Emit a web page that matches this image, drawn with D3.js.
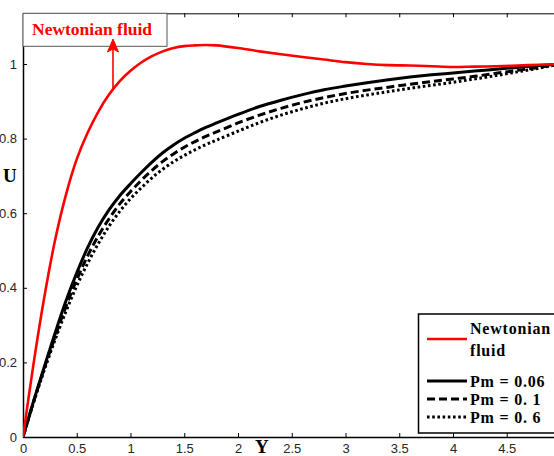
<!DOCTYPE html>
<html>
<head>
<meta charset="utf-8">
<script src="https://cdn.jsdelivr.net/npm/d3@7"></script>
<style>
  body { margin: 0; background: #fff; }
  svg { display: block; }
</style>
</head>
<body>
<script>
// values
const yPos = [0, 0.1, 0.2, 0.3, 0.4, 0.5, 0.6, 0.7, 0.8, 0.9, 1.0, 1.1, 1.2, 1.3, 1.4, 1.5, 1.6, 1.7, 1.8,
  2.0, 2.2, 2.4, 2.6, 2.8, 3.0, 3.2, 3.4, 3.6, 3.8, 4.0, 4.2, 4.4, 4.6, 4.8, 5.0];
const newtonian = [0, 0.20, 0.378, 0.53, 0.65, 0.745, 0.815, 0.872, 0.918, 0.954, 0.982, 1.004, 1.021, 1.034, 1.043, 1.048, 1.05, 1.051, 1.05,
  1.043, 1.034, 1.026, 1.019, 1.012, 1.005, 1.0, 0.997, 0.996, 0.994, 0.992, 0.993, 0.994, 0.996, 0.998, 1.0];
const pm006 = [0, 0.098, 0.19, 0.28, 0.365, 0.44, 0.507, 0.563, 0.609, 0.647, 0.679, 0.709, 0.737, 0.762, 0.783, 0.801, 0.816, 0.83, 0.842,
  0.865, 0.886, 0.903, 0.918, 0.931, 0.941, 0.95, 0.958, 0.965, 0.971, 0.976, 0.981, 0.986, 0.991, 0.996, 1.0];
const pm01 = [0, 0.096, 0.186, 0.27, 0.35, 0.422, 0.485, 0.539, 0.585, 0.625, 0.658, 0.688, 0.715, 0.739, 0.759, 0.777, 0.792, 0.806, 0.818,
  0.842, 0.863, 0.881, 0.897, 0.91, 0.921, 0.93, 0.938, 0.946, 0.953, 0.96, 0.967, 0.975, 0.983, 0.991, 1.0];
const pm06 = [0, 0.094, 0.181, 0.262, 0.337, 0.405, 0.465, 0.518, 0.565, 0.605, 0.639, 0.668, 0.695, 0.718, 0.738, 0.755, 0.77, 0.784, 0.796,
  0.82, 0.843, 0.863, 0.88, 0.895, 0.907, 0.917, 0.926, 0.935, 0.943, 0.951, 0.96, 0.969, 0.979, 0.989, 1.0];

const xTicks = [0, 0.5, 1, 1.5, 2, 2.5, 3, 3.5, 4, 4.5];
const yTicks = [0, 0.2, 0.4, 0.6, 0.8, 1];

const series = [
  { name: "Newtonian", values: newtonian, color: "#ff0000", width: 2.6, dash: null },
  { name: "Pm = 0.06", values: pm006, color: "#000", width: 3, dash: null },
  { name: "Pm = 0. 1", values: pm01, color: "#000", width: 3, dash: "8,4" },
  { name: "Pm = 0. 6", values: pm06, color: "#000", width: 3, dash: "2.6,2.6" }
];

const width = 554, height = 456;
const plotLeft = 23, plotTop = 13.3, plotBottom = 437;

const svg = d3.select("body").append("svg")
  .attr("width", width)
  .attr("height", height);

const x = d3.scaleLinear().domain([0, 5]).range([plotLeft, plotLeft + 537.5]);
const y = d3.scaleLinear().domain([0, 1.136]).range([plotBottom, plotTop]);

svg.append("clipPath").attr("id", "clip")
  .append("rect")
  .attr("x", plotLeft).attr("y", plotTop)
  .attr("width", x(5) - plotLeft).attr("height", plotBottom - plotTop);

// axes with inward ticks
const tickFont = "'Liberation Sans', Arial, sans-serif";

const xAxis = svg.append("g")
  .attr("transform", `translate(0,${plotBottom})`)
  .call(d3.axisBottom(x).tickValues(xTicks).tickSizeInner(-4).tickSizeOuter(0).tickPadding(7).tickFormat(d3.format("")));
const xTop = svg.append("g")
  .attr("transform", `translate(0,${plotTop})`)
  .call(d3.axisTop(x).tickValues(xTicks).tickSizeInner(-4).tickSizeOuter(0).tickFormat(""));
const yAxis = svg.append("g")
  .attr("transform", `translate(${plotLeft},0)`)
  .call(d3.axisLeft(y).tickValues(yTicks).tickSizeInner(-4).tickSizeOuter(0).tickPadding(6).tickFormat(d3.format("")));

[xAxis, xTop, yAxis].forEach(g => {
  g.select(".domain").attr("stroke", "#000").attr("stroke-width", 1.5);
  g.selectAll(".tick line").attr("stroke", "#000").attr("stroke-width", 1);
  g.selectAll("text").attr("font-family", tickFont).attr("font-size", 13).attr("fill", "#262626");
});
xTop.select(".domain").attr("stroke-width", 1);

// curves
const line = d3.line()
  .x((d, i) => x(yPos[i]))
  .y(d => y(d))
  .curve(d3.curveCatmullRom.alpha(0.5));

const plot = svg.append("g").attr("clip-path", "url(#clip)");
plot.selectAll("path.curve")
  .data(series.slice().reverse())
  .enter().append("path")
  .attr("class", "curve")
  .attr("d", d => line(d.values))
  .attr("fill", "none")
  .attr("stroke", d => d.color)
  .attr("stroke-width", d => d.width)
  .attr("stroke-dasharray", d => d.dash);

// axis titles
const serif = "'Liberation Serif', 'Times New Roman', serif";
svg.append("text").text("Y")
  .attr("x", 255).attr("y", 453)
  .attr("font-family", serif).attr("font-weight", "bold").attr("font-size", 19);
svg.append("text").text("U")
  .attr("x", 3).attr("y", 182)
  .attr("font-family", serif).attr("font-weight", "bold").attr("font-size", 19);

// annotation box
svg.append("rect")
  .attr("x", plotLeft).attr("y", plotTop)
  .attr("width", 144).attr("height", 33)
  .attr("fill", "#fff").attr("stroke", "#555").attr("stroke-width", 1);
svg.append("text").text("Newtonian fluid")
  .attr("x", 32).attr("y", 35)
  .attr("font-family", serif).attr("font-weight", "bold").attr("font-size", 17.5)
  .attr("fill", "#ff0000");
svg.append("line")
  .attr("x1", 113).attr("x2", 113).attr("y1", 89).attr("y2", 48)
  .attr("stroke", "#ff0000").attr("stroke-width", 1.6);
svg.append("path")
  .attr("d", "M113,39 L107.5,52 L113,49 L118.5,52 Z")
  .attr("fill", "#ff0000").attr("stroke", "#ff0000").attr("stroke-width", 1);

// legend
const legend = svg.append("g");
legend.append("rect")
  .attr("x", 418.5).attr("y", 314)
  .attr("width", 150).attr("height", 119)
  .attr("fill", "#fff").attr("stroke", "#000").attr("stroke-width", 1.5);

const rows = [
  { s: series[0], ly: 339, lines: ["Newtonian", "fluid"], ty: [334, 356] },
  { s: series[1], ly: 381, lines: ["Pm = 0.06"], ty: [387] },
  { s: series[2], ly: 399, lines: ["Pm = 0. 1"], ty: [405] },
  { s: series[3], ly: 417, lines: ["Pm = 0. 6"], ty: [423] }
];
rows.forEach(r => {
  legend.append("line")
    .attr("x1", 427).attr("x2", 467).attr("y1", r.ly).attr("y2", r.ly)
    .attr("stroke", r.s.color).attr("stroke-width", r.s.width)
    .attr("stroke-dasharray", r.s.dash);
  r.lines.forEach((t, i) => {
    legend.append("text").text(t)
      .attr("x", 470).attr("y", r.ty[i])
      .attr("font-family", serif).attr("font-weight", "bold").attr("font-size", 16)
      .attr("letter-spacing", 0.8)
      .attr("fill", "#000");
  });
});
</script>
</body>
</html>
